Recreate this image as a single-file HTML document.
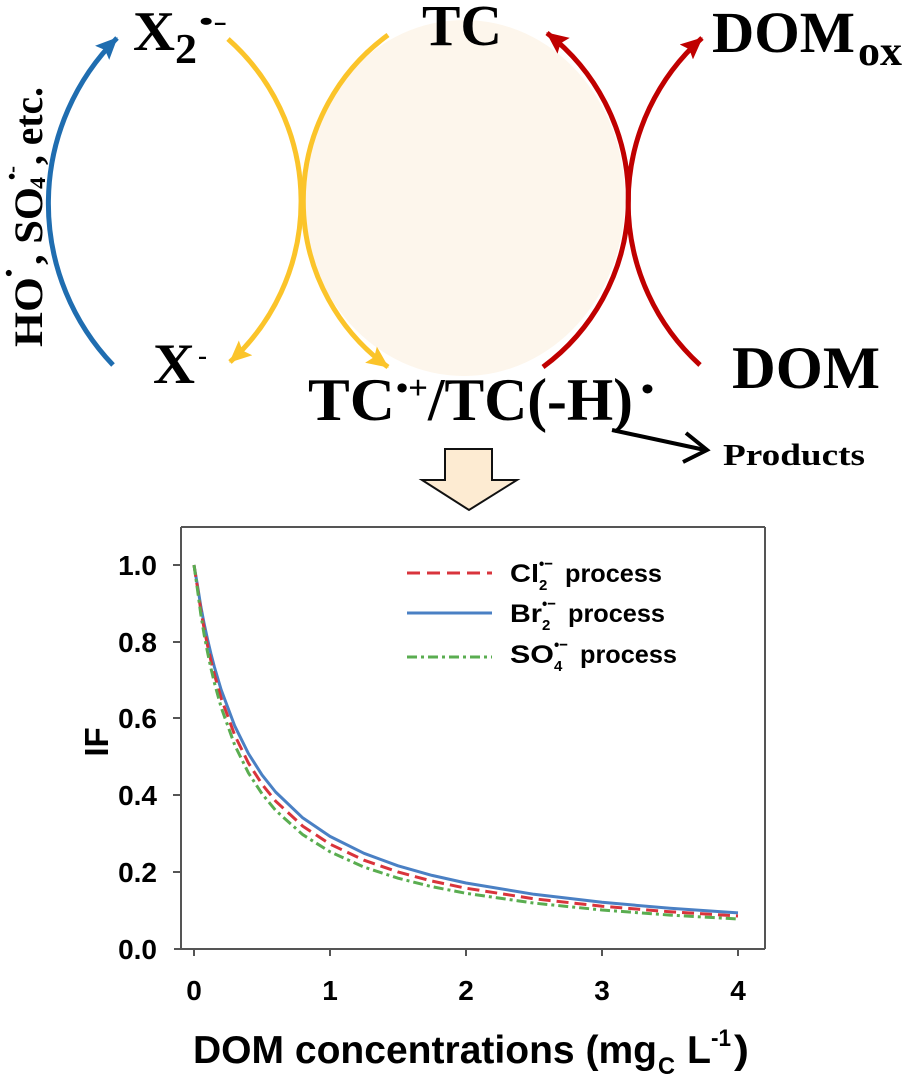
<!DOCTYPE html>
<html>
<head>
<meta charset="utf-8">
<style>
  html, body { margin:0; padding:0; background:#ffffff; }
  svg { display:block; }
  .serif { font-family: "Liberation Serif", "DejaVu Serif", serif; font-weight: bold; fill:#000; }
  .sans { font-family: "Liberation Sans", "DejaVu Sans", sans-serif; font-weight: bold; fill:#000; }
</style>
</head>
<body>
<svg width="904" height="1085" viewBox="0 0 904 1085" xmlns="http://www.w3.org/2000/svg">
  <defs>
    <marker id="mBlue" markerUnits="userSpaceOnUse" markerWidth="24" markerHeight="22" refX="21" refY="10" orient="auto">
      <path d="M0,0 L22,10 L0,20 L4,10 Z" fill="#1f6db0"/>
    </marker>
    <marker id="mYel" markerUnits="userSpaceOnUse" markerWidth="24" markerHeight="22" refX="21" refY="10" orient="auto">
      <path d="M0,0 L22,10 L0,20 L4,10 Z" fill="#fbc42a"/>
    </marker>
    <marker id="mRed" markerUnits="userSpaceOnUse" markerWidth="24" markerHeight="22" refX="21" refY="10" orient="auto">
      <path d="M0,0 L22,10 L0,20 L4,10 Z" fill="#c00000"/>
    </marker>
  </defs>

  <rect x="0" y="0" width="904" height="1085" fill="#ffffff"/>

  <!-- pale circle -->
  <ellipse cx="464" cy="198" rx="161" ry="178" fill="#fdf6ec"/>

  <!-- arcs -->
  <path d="M113,365 A234,234 0 0 1 117,38" fill="none" stroke="#1f6db0" stroke-width="5" marker-end="url(#mBlue)"/>
  <path d="M228,39 A217,217 0 0 1 230,362" fill="none" stroke="#fbc42a" stroke-width="5" marker-end="url(#mYel)"/>
  <path d="M388,35 A205,205 0 0 0 388,367" fill="none" stroke="#fbc42a" stroke-width="5" marker-end="url(#mYel)"/>
  <path d="M543,367 A209,209 0 0 0 547,33" fill="none" stroke="#c00000" stroke-width="5" marker-end="url(#mRed)"/>
  <path d="M700,365 A220,220 0 0 1 702,38" fill="none" stroke="#c00000" stroke-width="5" marker-end="url(#mRed)"/>

  <!-- products arrow -->
  <line x1="612" y1="430" x2="705" y2="450" stroke="#000" stroke-width="4"/>
  <polyline points="686,433 707,450 683,462" fill="none" stroke="#000" stroke-width="4" stroke-linejoin="miter"/>

  <!-- diagram labels -->
  <text class="serif" x="133" y="50" font-size="56" textLength="42" lengthAdjust="spacingAndGlyphs">X</text>
  <text class="serif" x="175" y="63" font-size="42" textLength="22" lengthAdjust="spacingAndGlyphs">2</text>
  <text class="serif" x="199" y="30" font-size="26" textLength="28" lengthAdjust="spacingAndGlyphs">•-</text>

  <text class="serif" x="422" y="45" font-size="58" textLength="80" lengthAdjust="spacingAndGlyphs">TC</text>

  <text class="serif" x="712" y="52" font-size="58" textLength="143" lengthAdjust="spacingAndGlyphs">DOM</text>
  <text class="serif" x="858" y="65" font-size="42" textLength="44" lengthAdjust="spacingAndGlyphs">ox</text>

  <text class="serif" x="153" y="383" font-size="57" textLength="42" lengthAdjust="spacingAndGlyphs">X</text>
  <text class="serif" x="198" y="364" font-size="26" textLength="9" lengthAdjust="spacingAndGlyphs">-</text>

  <text class="serif" x="732" y="388" font-size="60" textLength="148" lengthAdjust="spacingAndGlyphs">DOM</text>

  <text class="serif" x="308" y="420" font-size="60" textLength="87" lengthAdjust="spacingAndGlyphs">TC</text>
  <text class="serif" x="396" y="399" font-size="34" textLength="32" lengthAdjust="spacingAndGlyphs">•+</text>
  <text class="serif" x="428" y="420" font-size="60" textLength="205" lengthAdjust="spacingAndGlyphs">/TC(-H)</text>
  <text class="serif" x="641" y="400" font-size="34" textLength="13" lengthAdjust="spacingAndGlyphs">•</text>

  <text class="serif" x="723" y="465" font-size="31" textLength="142" lengthAdjust="spacingAndGlyphs">Products</text>

  <!-- rotated left label -->
  <g transform="translate(42,347) rotate(-90)">
    <text class="serif" x="0" y="0" font-size="40" textLength="70" lengthAdjust="spacingAndGlyphs">HO</text>
    <text class="serif" x="70" y="-26" font-size="22" textLength="8" lengthAdjust="spacingAndGlyphs">•</text>
    <text class="serif" x="82" y="0" font-size="40" textLength="78" lengthAdjust="spacingAndGlyphs">, SO</text>
    <text class="serif" x="158" y="3" font-size="22" textLength="12" lengthAdjust="spacingAndGlyphs">4</text>
    <text class="serif" x="167" y="-23" font-size="22" textLength="14" lengthAdjust="spacingAndGlyphs">•-</text>
    <text class="serif" x="182" y="0" font-size="40" textLength="78" lengthAdjust="spacingAndGlyphs">, etc.</text>
  </g>

  <!-- down block arrow -->
  <polygon points="445,449 492,449 492,480 517,480 469,510 422,480 445,480" fill="#fdebd2" stroke="#111" stroke-width="2" stroke-linejoin="miter"/>

  <!-- ===== chart ===== -->
  <g stroke="#555" stroke-width="2" fill="none">
    <line x1="181" y1="527" x2="765" y2="527"/>
    <line x1="765" y1="527" x2="765" y2="949"/>
    <line x1="181" y1="527" x2="181" y2="949"/>
    <line x1="174" y1="949" x2="765" y2="949"/>
    <!-- y ticks -->
    <line x1="173" y1="565" x2="181" y2="565"/>
    <line x1="173" y1="642" x2="181" y2="642"/>
    <line x1="173" y1="718" x2="181" y2="718"/>
    <line x1="173" y1="795" x2="181" y2="795"/>
    <line x1="173" y1="872" x2="181" y2="872"/>
    <!-- x ticks -->
    <line x1="194" y1="949" x2="194" y2="956"/>
    <line x1="330" y1="949" x2="330" y2="956"/>
    <line x1="466" y1="949" x2="466" y2="956"/>
    <line x1="602" y1="949" x2="602" y2="956"/>
    <line x1="738" y1="949" x2="738" y2="956"/>
  </g>

  <!-- y tick labels -->
  <g class="sans" font-size="28" text-anchor="end">
    <text x="157" y="575">1.0</text>
    <text x="157" y="652">0.8</text>
    <text x="157" y="728">0.6</text>
    <text x="157" y="805">0.4</text>
    <text x="157" y="882">0.2</text>
    <text x="157" y="959">0.0</text>
  </g>
  <!-- x tick labels -->
  <g class="sans" font-size="28" text-anchor="middle">
    <text x="194" y="1000">0</text>
    <text x="330" y="1000">1</text>
    <text x="466" y="1000">2</text>
    <text x="602" y="1000">3</text>
    <text x="738" y="1000">4</text>
  </g>

  <!-- axis titles -->
  <text class="sans" font-size="33" text-anchor="middle" transform="translate(108,742) rotate(-90)">IF</text>

  <text class="sans" x="193" y="1063" font-size="39" textLength="464" lengthAdjust="spacingAndGlyphs">DOM concentrations (mg</text>
  <text class="sans" x="658" y="1074" font-size="24" textLength="17" lengthAdjust="spacingAndGlyphs">C</text>
  <text class="sans" x="687" y="1063" font-size="39" textLength="24" lengthAdjust="spacingAndGlyphs">L</text>
  <text class="sans" x="711" y="1046" font-size="24" textLength="20" lengthAdjust="spacingAndGlyphs">-1</text>
  <text class="sans" x="734" y="1063" font-size="39" textLength="15" lengthAdjust="spacingAndGlyphs">)</text>

  <!-- curves -->
  <polyline fill="none" stroke="#4a80c4" stroke-width="3" stroke-linejoin="round"
    points="194,565 197.4,585 200.8,606.3 204.2,624 207.6,639.6 211,654 214.4,667 221.2,689.9 234.8,726.1 248.4,753.5 262,774.9 275.6,792 302.8,817.9 330,836.4 364,853.3 398,865.8 432,875.4 466,883 534,894.3 602,902.3 670,908.3 738,912.9"/>
  <polyline fill="none" stroke="#d9343c" stroke-width="3" stroke-dasharray="12 6"
    points="194,565 197.4,587 200.8,610.1 204.2,629 207.6,645.7 211,661 214.4,674.5 221.2,698.4 234.8,735.4 248.4,763 262,784.2 275.6,801.1 302.8,826.2 330,844.1 364,860.2 398,872 432,881.1 466,888.2 534,898.8 602,906.2 670,911.8 738,916"/>
  <polyline fill="none" stroke="#5aad50" stroke-width="3" stroke-dasharray="10 4 3 4"
    points="194,565 197.4,589 200.8,614.3 204.2,635 207.6,652.5 211,668.5 214.4,682.8 221.2,707.5 234.8,745.3 248.4,772.9 262,793.8 275.6,810.4 302.8,834.7 330,851.8 364,867.1 398,878.2 432,886.7 466,893.3 534,903.1 602,910 670,915.1 738,919"/>

  <!-- legend -->
  <line x1="407" y1="573" x2="492" y2="573" stroke="#d9343c" stroke-width="3" stroke-dasharray="13 7"/>
  <line x1="407" y1="613" x2="492" y2="613" stroke="#4a80c4" stroke-width="3"/>
  <line x1="407" y1="657" x2="492" y2="657" stroke="#5aad50" stroke-width="3" stroke-dasharray="10 4 3 4"/>

  <text class="sans" x="510" y="582" font-size="25" textLength="29" lengthAdjust="spacingAndGlyphs">Cl</text>
  <text class="sans" x="539" y="590" font-size="15">2</text>
  <text class="sans" x="539" y="569" font-size="16" textLength="14" lengthAdjust="spacingAndGlyphs">•−</text>
  <text class="sans" x="565" y="582" font-size="25" textLength="97" lengthAdjust="spacingAndGlyphs">process</text>

  <text class="sans" x="510" y="622" font-size="25" textLength="32" lengthAdjust="spacingAndGlyphs">Br</text>
  <text class="sans" x="542" y="630" font-size="15">2</text>
  <text class="sans" x="542" y="609" font-size="16" textLength="14" lengthAdjust="spacingAndGlyphs">•−</text>
  <text class="sans" x="568" y="622" font-size="25" textLength="97" lengthAdjust="spacingAndGlyphs">process</text>

  <text class="sans" x="510" y="663" font-size="25" textLength="44" lengthAdjust="spacingAndGlyphs">SO</text>
  <text class="sans" x="554" y="671" font-size="15">4</text>
  <text class="sans" x="554" y="650" font-size="16" textLength="14" lengthAdjust="spacingAndGlyphs">•−</text>
  <text class="sans" x="580" y="663" font-size="25" textLength="97" lengthAdjust="spacingAndGlyphs">process</text>
</svg>
</body>
</html>
